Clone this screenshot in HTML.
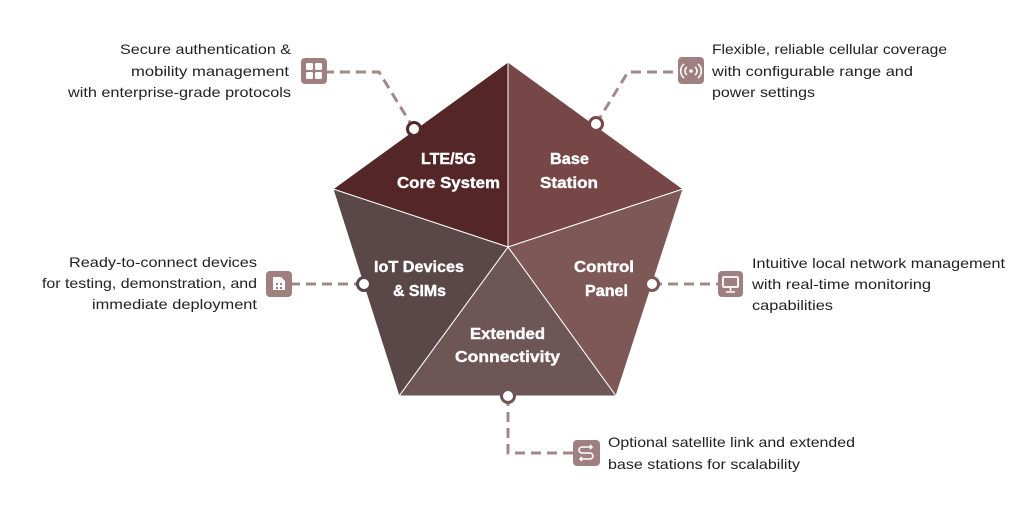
<!DOCTYPE html>
<html><head><meta charset="utf-8"><style>
html,body{margin:0;padding:0;background:#fff;}
svg{display:block;}
text{font-family:"Liberation Sans",Arial,sans-serif;}
.d{font-size:14px;fill:#222;}
.l{font-size:15.5px;font-weight:bold;fill:#fff;text-anchor:middle;stroke:#fff;stroke-width:0.4;}
.c{fill:none;stroke:#a28889;stroke-width:3;stroke-dasharray:10 6;}
.ib{fill:#a07f80;}
.ig{fill:none;stroke:#fff;stroke-width:1.6;}
</style></head><body>
<svg width="1022" height="525" viewBox="0 0 1022 525">
<path class="c" d="M414,129 L379,72 L327,72"/>
<path class="c" d="M596,124 L628,72 L679,72"/>
<path class="c" d="M364,284 L292,284"/>
<path class="c" d="M652,284 L718,284"/>
<path class="c" d="M508,396 L508,453 L573,453"/>
<g stroke="#fff" stroke-width="1">
<polygon points="508,62 333,189 508,247" fill="#552628"/>
<polygon points="508,62 683,189 508,247" fill="#774646"/>
<polygon points="683,189 616,396 508,247" fill="#7e5757"/>
<polygon points="616,396 399,396 508,247" fill="#6e5656"/>
<polygon points="399,396 333,189 508,247" fill="#5a4747"/>
</g>
<circle cx="414" cy="129" r="6.5" fill="#fff" stroke="#552628" stroke-width="3"/>
<circle cx="596" cy="124" r="6.5" fill="#fff" stroke="#774646" stroke-width="3"/>
<circle cx="364" cy="284" r="6.5" fill="#fff" stroke="#5a4747" stroke-width="3"/>
<circle cx="652" cy="284" r="6.5" fill="#fff" stroke="#7e5757" stroke-width="3"/>
<circle cx="508" cy="396" r="6.5" fill="#fff" stroke="#6e5656" stroke-width="3"/>
<g lengthAdjust="spacingAndGlyphs">
<text class="l" x="448.5" y="164" textLength="55" lengthAdjust="spacingAndGlyphs">LTE/5G</text>
<text class="l" x="448.5" y="188" textLength="103" lengthAdjust="spacingAndGlyphs">Core System</text>
<text class="l" x="569.5" y="164" textLength="39" lengthAdjust="spacingAndGlyphs">Base</text>
<text class="l" x="569" y="188" textLength="58" lengthAdjust="spacingAndGlyphs">Station</text>
<text class="l" x="419" y="272" textLength="90" lengthAdjust="spacingAndGlyphs">IoT Devices</text>
<text class="l" x="419.5" y="296" textLength="53" lengthAdjust="spacingAndGlyphs">&amp; SIMs</text>
<text class="l" x="604" y="272" textLength="60" lengthAdjust="spacingAndGlyphs">Control</text>
<text class="l" x="606.5" y="296" textLength="43" lengthAdjust="spacingAndGlyphs">Panel</text>
<text class="l" x="507.5" y="339" textLength="75" lengthAdjust="spacingAndGlyphs">Extended</text>
<text class="l" x="507.5" y="362" textLength="105" lengthAdjust="spacingAndGlyphs">Connectivity</text>
</g>
<rect class="ib" x="301" y="58" width="26" height="26" rx="4"/>
<rect x="306" y="63" width="7" height="7" rx="1.5" fill="#fff"/><rect x="315" y="63" width="7" height="7" rx="1.5" fill="#fff"/>
<rect x="306" y="72" width="7" height="7" rx="1.5" fill="#fff"/><rect x="315" y="72" width="7" height="7" rx="1.5" fill="#fff"/>
<rect class="ib" x="678" y="57" width="26" height="27" rx="4"/>
<circle cx="691" cy="71" r="1.8" fill="#fff"/>
<path class="ig" d="M687,67 a5,5 0 0 0 0,8 M695,67 a5,5 0 0 1 0,8 M684,64 a9,9 0 0 0 0,14 M698,64 a9,9 0 0 1 0,14"/>
<rect class="ib" x="266" y="271" width="26" height="26" rx="4"/>
<path d="M273,277 h8 l4,4 v9 h-12 z" fill="#fff"/>
<g fill="#a07f80"><rect x="276" y="283" width="2" height="2"/><rect x="280" y="283" width="2" height="2"/><rect x="276" y="287" width="2" height="2"/><rect x="280" y="287" width="2" height="2"/></g>
<rect class="ib" x="718" y="271" width="25" height="26" rx="4"/>
<rect x="723" y="277" width="15" height="10" rx="1" fill="none" stroke="#fff" stroke-width="1.8"/>
<path class="ig" d="M730.5,287 v4 M726,292 h9"/>
<rect class="ib" x="573" y="440" width="27" height="26" rx="4"/>
<path class="ig" d="M592,447 h-10 a3,3 0 0 0 0,6 h8 a3,3 0 0 1 0,6 h-10 M590,445 l2,2 l-2,2 M582,457 l-2,2 l2,2"/>
<text class="d" text-anchor="end" x="291" y="54" textLength="171" lengthAdjust="spacingAndGlyphs">Secure authentication &amp;</text>
<text class="d" text-anchor="end" x="289" y="76" textLength="158" lengthAdjust="spacingAndGlyphs">mobility management</text>
<text class="d" text-anchor="end" x="291" y="97" textLength="223" lengthAdjust="spacingAndGlyphs">with enterprise-grade protocols</text>
<text class="d" x="712" y="54" textLength="235" lengthAdjust="spacingAndGlyphs">Flexible, reliable cellular coverage</text>
<text class="d" x="712" y="76" textLength="201" lengthAdjust="spacingAndGlyphs">with configurable range and</text>
<text class="d" x="712" y="97" textLength="103" lengthAdjust="spacingAndGlyphs">power settings</text>
<text class="d" text-anchor="end" x="257" y="267" textLength="188" lengthAdjust="spacingAndGlyphs">Ready-to-connect devices</text>
<text class="d" text-anchor="end" x="257" y="288" textLength="215" lengthAdjust="spacingAndGlyphs">for testing, demonstration, and</text>
<text class="d" text-anchor="end" x="257" y="309" textLength="165" lengthAdjust="spacingAndGlyphs">immediate deployment</text>
<text class="d" x="752" y="268" textLength="253" lengthAdjust="spacingAndGlyphs">Intuitive local network management</text>
<text class="d" x="752" y="289" textLength="179" lengthAdjust="spacingAndGlyphs">with real-time monitoring</text>
<text class="d" x="752" y="310" textLength="81" lengthAdjust="spacingAndGlyphs">capabilities</text>
<text class="d" x="608" y="447" textLength="247" lengthAdjust="spacingAndGlyphs">Optional satellite link and extended</text>
<text class="d" x="608" y="469" textLength="192" lengthAdjust="spacingAndGlyphs">base stations for scalability</text>
</svg>
</body></html>
